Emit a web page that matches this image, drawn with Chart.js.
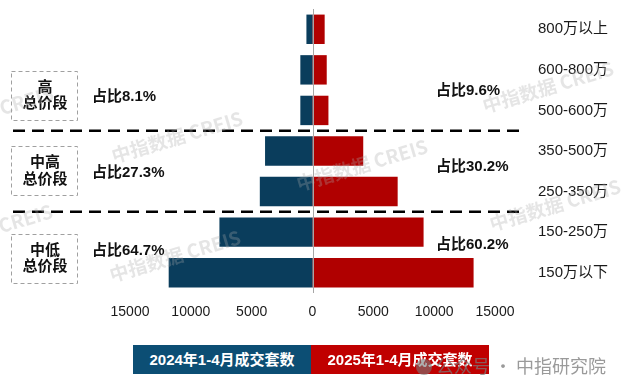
<!DOCTYPE html>
<html><head><meta charset="utf-8">
<script src="https://cdn.jsdelivr.net/npm/chart.js@4/dist/chart.umd.min.js"></script>
<style>
html,body{margin:0;padding:0;background:#fff;}
#wrap{position:relative;width:625px;height:389px;overflow:hidden;}
canvas{position:absolute;left:0;top:0;}
.leg{position:absolute;top:345px;height:29px;width:178px;color:#fff;font:bold 15px "Liberation Sans","Noto Sans CJK SC",sans-serif;line-height:29px;text-align:center;}
#src{position:absolute;left:416px;top:352px;height:26px;font:18px "Noto Sans CJK SC",sans-serif;color:rgba(120,120,120,0.75);line-height:26px;white-space:nowrap;}
#src i{display:inline-block;width:16px;height:16px;border-radius:8px;background:rgba(120,120,120,0.6);vertical-align:-2px;margin-right:4px;}
</style></head>
<body><div id="wrap"><canvas id="c" width="625" height="389"></canvas>
<div class="leg" id="leg0" style="left:133px;background:#0c4e74"></div>
<div class="leg" id="leg1" style="left:311px;background:#c00000"></div>
<div id="src"><i></i>公众号 · 中指研究院</div>
</div>
<script>
const categories = ['800万以上','600-800万','500-600万','350-500万','250-350万','150-250万','150万以下'];
const deals2024 = [500,1000,1000,3900,4330,7650,11820];
const deals2025 = [1000,1170,1310,4170,7000,9130,13240];
const seriesNames = ['2024年1-4月成交套数','2025年1-4月成交套数'];
const groupNames = [['高','总价段'],['中高','总价段'],['中低','总价段']];
const groupSizes = [3,2,2];
const share2024 = ['占比8.1%','占比27.3%','占比64.7%'];
const share2025 = ['占比9.6%','占比30.2%','占比60.2%'];
const watermark = '中指数据 CREIS';

document.getElementById('leg0').textContent = seriesNames[0];
document.getElementById('leg1').textContent = seriesNames[1];

const LAT = '"Liberation Sans","Noto Sans CJK SC",sans-serif';
const BLUE = '#0a3d5c', RED = '#b00000';

// layout-only positions (category-index units) for annotation boxes/labels
const boxPos = [1.64, 3.5, 5.65];
const leftPos = [1.66, 3.54, 5.45];
const rightPos = [1.52, 3.38, 5.31];
const wmPos = [[177,137],[175,256],[-12,112],[-13,230],[548,87],[555,205],[362,165]];

const overlay = {
  id: 'overlay',
  afterDatasetsDraw(chart) {
    const ctx = chart.ctx, ys = chart.scales.y, xs = chart.scales.x, a = chart.chartArea;
    ctx.save();
    // zero axis line
    const x0 = Math.round(xs.getPixelForValue(0)) + 0.5;
    ctx.strokeStyle = '#a6a6a6'; ctx.lineWidth = 1;
    ctx.beginPath(); ctx.moveTo(x0, a.top); ctx.lineTo(x0, a.bottom); ctx.stroke();
    // group separators
    let cum = 0;
    ctx.strokeStyle = '#000'; ctx.lineWidth = 2.5; ctx.setLineDash([12, 7]);
    for (let g = 0; g < groupSizes.length - 1; g++) {
      cum += groupSizes[g];
      const y = ys.getPixelForValue(cum - 0.5);
      ctx.beginPath(); ctx.moveTo(13, y); ctx.lineTo(522, y); ctx.stroke();
    }
    // group boxes
    ctx.setLineDash([4, 3]); ctx.lineWidth = 1; ctx.strokeStyle = '#a0a0a0';
    ctx.fillStyle = '#111'; ctx.textAlign = 'center'; ctx.textBaseline = 'middle';
    ctx.font = 'bold 15px ' + LAT;
    groupNames.forEach((lines, i) => {
      const cy = ys.getPixelForValue(boxPos[i]);
      ctx.strokeRect(11.5, Math.round(cy - 25) + 0.5, 66, 49);
      ctx.fillText(lines[0], 45, cy - 8);
      ctx.fillText(lines[1], 45, cy + 8.5);
    });
    ctx.setLineDash([]);
    ctx.textAlign = 'left';
    share2024.forEach((t, i) => ctx.fillText(t, 92, ys.getPixelForValue(leftPos[i])));
    share2025.forEach((t, i) => ctx.fillText(t, 436, ys.getPixelForValue(rightPos[i])));
    // watermarks
    ctx.fillStyle = 'rgba(170,170,170,0.3)';
    ctx.font = 'bold 19px "Noto Sans CJK SC",sans-serif';
    ctx.textAlign = 'center';
    wmPos.forEach(p => {
      ctx.save(); ctx.translate(p[0], p[1]); ctx.rotate(-16.5 * Math.PI / 180);
      ctx.fillText(watermark, 0, 0); ctx.restore();
    });
    ctx.restore();
  }
};

new Chart(document.getElementById('c'), {
  type: 'bar',
  data: {
    labels: categories,
    datasets: [
      { label: seriesNames[0], data: deals2024.map(v => -v), backgroundColor: BLUE, borderWidth: 0 },
      { label: seriesNames[1], data: deals2025, backgroundColor: RED, borderWidth: 0 }
    ]
  },
  options: {
    indexAxis: 'y',
    responsive: false,
    animation: false,
    events: [],
    layout: { padding: { left: 130, right: 0, top: 9, bottom: 66 } },
    datasets: { bar: { categoryPercentage: 1, barPercentage: 0.725 } },
    plugins: { legend: { display: false }, tooltip: { enabled: false } },
    scales: {
      x: {
        stacked: true, min: -15000, max: 15000,
        grid: { display: false, drawTicks: false },
        border: { display: false },
        ticks: { stepSize: 5000, padding: 11, color: '#1a1a1a', font: { family: LAT, size: 14 },
                 callback: v => String(Math.abs(v)) },
        afterFit: s => { s.height = 30; }
      },
      y: {
        stacked: true, position: 'right', offset: true,
        grid: { display: false, drawTicks: false },
        border: { display: false },
        ticks: { padding: 43, color: '#1a1a1a', font: { family: LAT, size: 15 } },
        afterFit: s => { s.width = 130; s.paddingTop = 0; s.paddingBottom = 0; }
      }
    }
  },
  plugins: [overlay]
});
</script>
</body></html>
